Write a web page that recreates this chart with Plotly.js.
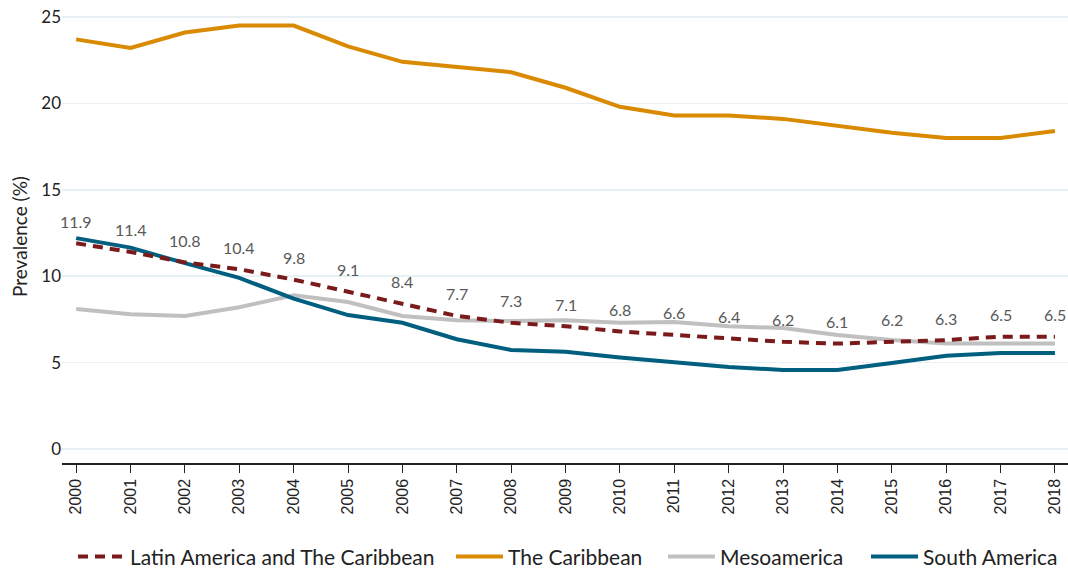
<!DOCTYPE html>
<html>
<head>
<meta charset="utf-8">
<script src="https://cdn.plot.ly/plotly-3.0.1.min.js"></script>
<style>html,body{margin:0;padding:0;background:#fff;}#chart{width:1068px;height:570px;}</style>
</head>
<body>
<div id="chart"></div>
<script>
const years = [2000,2001,2002,2003,2004,2005,2006,2007,2008,2009,2010,2011,2012,2013,2014,2015,2016,2017,2018];
const latinAmerica = [11.9,11.4,10.8,10.4,9.8,9.1,8.4,7.7,7.3,7.1,6.8,6.6,6.4,6.2,6.1,6.2,6.3,6.5,6.5];
const caribbean = [23.7,23.2,24.1,24.5,24.5,23.3,22.4,22.1,21.8,20.9,19.8,19.3,19.3,19.1,18.7,18.3,18.0,18.0,18.4];
const mesoamerica = [8.1,7.8,7.7,8.2,8.9,8.5,7.7,7.45,7.4,7.45,7.3,7.35,7.1,7.0,6.6,6.3,6.1,6.1,6.1];
const southAmerica = [12.2,11.65,10.75,9.9,8.7,7.75,7.3,6.35,5.73,5.63,5.3,5.05,4.75,4.57,4.57,4.97,5.4,5.55,5.55];
const seriesNames = ["Latin America and The Caribbean","The Caribbean","Mesoamerica","South America"];
const yTitle = "Prevalence (%)";

const FONT = "Lato, 'Open Sans', sans-serif";

const traces = [
  {x: years, y: latinAmerica, name: seriesNames[0], mode: "lines", legend: "legend",
   line: {color: "#7b1a1a", width: 4, dash: "10px,7px"}},
  {x: years, y: caribbean, name: seriesNames[1], mode: "lines", legend: "legend2",
   line: {color: "#d98a00", width: 4}},
  {x: years, y: mesoamerica, name: seriesNames[2], mode: "lines", legend: "legend3",
   line: {color: "#c0c0c0", width: 4}},
  {x: years, y: southAmerica, name: seriesNames[3], mode: "lines", legend: "legend4",
   line: {color: "#005f7f", width: 4}}
];
const ordered = [traces[1], traces[2], traces[3], traces[0]];

const annotations = years.map((yr, i) => ({
  x: yr, y: latinAmerica[i], text: latinAmerica[i].toFixed(1),
  showarrow: false, yshift: 22, xref: "x", yref: "y",
  font: {family: FONT, size: 16, color: "#595959"}
}));

const PL = 62, PW = 1006;
function leg(px) {
  return {orientation: "h", x: (px - PL) / PW, xanchor: "left", y: -0.207, yanchor: "middle",
    font: {family: FONT, size: 21, color: "#222"}, itemwidth: 47, bgcolor: "rgba(0,0,0,0)"};
}

const layout = {
  width: 1068, height: 570,
  margin: {l: 62, r: 0, t: 10, b: 107, autoexpand: false},
  paper_bgcolor: "#fff", plot_bgcolor: "#fff",
  font: {family: FONT, color: "#222"},
  showlegend: true,
  legend: leg(73), legend2: leg(451), legend3: leg(663), legend4: leg(866),
  xaxis: {
    range: [1999.74, 2018.24], tickmode: "array", tickvals: years, ticktext: years.map(String),
    tickangle: -90, ticks: "outside", ticklen: 8, tickcolor: "#222", tickwidth: 1,
    showline: true, linecolor: "#222", linewidth: 1.5, showgrid: false, zeroline: false,
    tickfont: {family: "'Liberation Sans', Arial, sans-serif", size: 16, color: "#222"}
  },
  yaxis: {
    range: [-0.81, 25.4], tickvals: [0,5,10,15,20,25], showgrid: true, gridcolor: "#e9f0f3", gridwidth: 1.5,
    zeroline: false, showline: false, ticks: "",
    tickfont: {family: FONT, size: 17, color: "#222"},
    title: {text: yTitle, font: {family: FONT, size: 19, color: "#222"}, standoff: 8}
  },
  annotations: annotations
};

Plotly.newPlot("chart", ordered, layout, {displayModeBar: false, staticPlot: true});
</script>
</body>
</html>
